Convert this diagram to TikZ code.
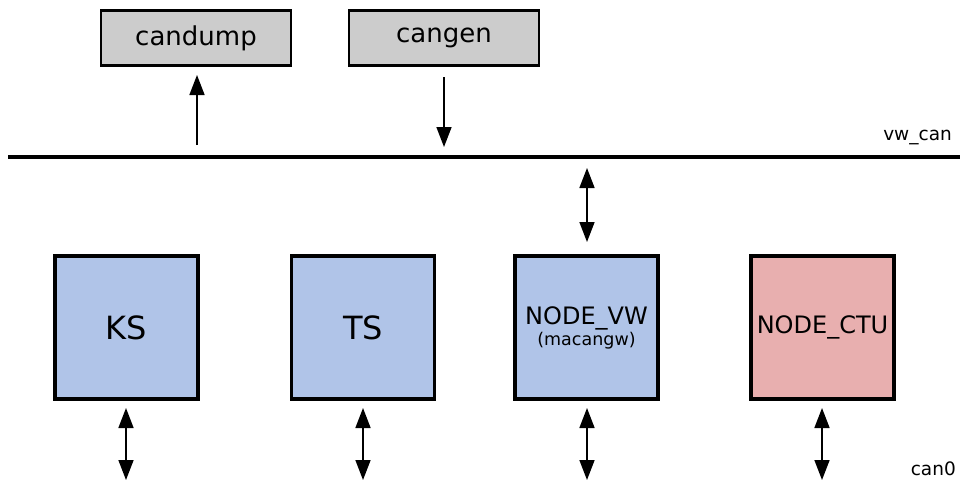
\documentclass[tikz,border=0pt]{standalone}
\usepackage{fontspec}
\setmainfont{DejaVu Sans}
\usetikzlibrary{arrows.meta}
\definecolor{ecublue}{HTML}{B0C4E8}
\definecolor{ecured}{HTML}{E8AFAF}
\definecolor{toolgray}{HTML}{CCCCCC}
\tikzset{
  toolbox/.style={draw=black, line width=2.8pt, fill=toolgray, minimum width=190pt, minimum height=55pt, inner sep=0pt, font=\fontsize{26}{30}\selectfont},
  ecu/.style={draw=black, line width=3.2pt, minimum width=143pt, minimum height=143pt, inner sep=0pt, align=center},
  tip/.tip={Triangle[length=20pt,width=15pt]},
  conn/.style={line width=1.6pt, -tip},
  dconn/.style={line width=1.6pt, tip-tip},
  bus/.style={line width=4pt},
  lbl/.style={font=\fontsize{18.5}{22}\selectfont, inner sep=0pt}
}
\begin{document}
\begin{tikzpicture}[x=1pt,y=-1pt]
\useasboundingbox (0,0) rectangle (960,490);
% bus
\coordinate (busL) at (8,157);
\coordinate (busR) at (960,157);
\draw[bus] (busL) -- (busR);
\node[lbl, anchor=base east] (vwcan) at (952,140) {vw\_can};
\node[lbl, anchor=base east] (can0) at (956,475) {can0};
% tools
\node[toolbox] (candump) at (196,38) {candump};
\node[toolbox] (cangen) at (444,38) {cangen};
\coordinate (dumpBus) at (197,145);
\coordinate (dumpTip) at (197,75);
\coordinate (genStart) at (444,77);
\coordinate (genBus) at (444,147);
\draw[conn] (dumpBus) -- (dumpTip);
\draw[conn] (genStart) -- (genBus);
% ECUs
\node[ecu, fill=ecublue, font=\fontsize{32}{36}\selectfont] (ks) at (126.5,327.5) {KS};
\node[ecu, fill=ecublue, font=\fontsize{32}{36}\selectfont] (ts) at (363,327.5) {TS};
\node[ecu, fill=ecublue] (vw) at (586.5,327.5) {{\fontsize{24}{24}\selectfont NODE\_VW}\\[1pt]{\fontsize{17.5}{18}\selectfont (macangw)}};
\node[ecu, fill=ecured, font=\fontsize{24}{28}\selectfont] (ctu) at (822.5,327.5) {NODE\_CTU};
% gateway to vw_can
\coordinate (vwTop1) at (587,168);
\coordinate (vwTop2) at (587,242);
\draw[dconn] (vwTop1) -- (vwTop2);
% can0 connections
\foreach \n/\x in {ks/126, ts/363, vw/587, ctu/822}{
  \coordinate (\n a) at (\x,408);
  \coordinate (\n b) at (\x,480);
  \draw[dconn] (\n a) -- (\n b);
}
\end{tikzpicture}
\end{document}
